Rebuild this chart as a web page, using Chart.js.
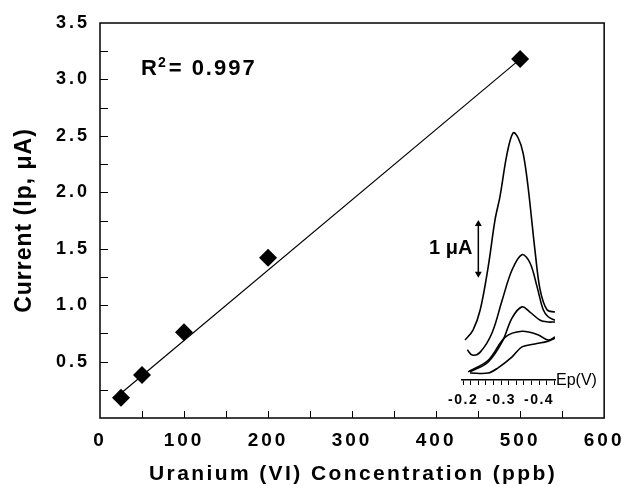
<!DOCTYPE html>
<html>
<head>
<meta charset="utf-8">
<title>Uranium (VI) calibration</title>
<script src="https://cdn.jsdelivr.net/npm/chart.js@4/dist/chart.umd.min.js"></script>
<style>
  html, body { margin: 0; padding: 0; background: #fff; }
  #wrap { position: relative; width: 631px; height: 486px; }
  #mainChart { position: absolute; left: 0; top: 0; }
  #insetChart { position: absolute; left: 400px; top: 110px; }
</style>
</head>
<body>
<div id="wrap">
  <canvas id="mainChart" width="631" height="486"></canvas>
  <canvas id="insetChart" width="220" height="310"></canvas>
</div>
<script>
// calibration points (ppb, uA)
const concentration = [25, 50, 100, 200, 500];
const peakCurrent = [0.18, 0.38, 0.76, 1.42, 3.18];

// regression line ends
const fitConc = [25, 500];
const fitCurrent = [0.22, 3.18];

const rSquared = '0.997';

// inset: stripping voltammograms (V, uA above the baseline)
const sweep1V = [-0.205, -0.226, -0.245, -0.266, -0.284, -0.297, -0.316, -0.332, -0.345, -0.358, -0.371, -0.390, -0.403, -0.421, -0.442];
const sweep1I = [0.69, 0.86, 1.21, 1.95, 2.76, 3.16, 3.91, 4.26, 4.17, 3.91, 3.33, 2.19, 1.55, 1.21, 1.17];
const sweep2V = [-0.211, -0.224, -0.245, -0.276, -0.303, -0.329, -0.355, -0.376, -0.395, -0.411, -0.424, -0.442];
const sweep2I = [0.52, 0.43, 0.48, 0.81, 1.38, 1.90, 2.16, 2.02, 1.60, 1.21, 1.09, 1.03];
const sweep3V = [-0.218, -0.266, -0.303, -0.329, -0.355, -0.376, -0.403, -0.424, -0.442];
const sweep3I = [0.14, 0.31, 0.66, 1.07, 1.26, 1.17, 1.03, 1.00, 1.00];
const sweep4V = [-0.213, -0.266, -0.311, -0.355, -0.397, -0.424, -0.442];
const sweep4I = [0.14, 0.34, 0.74, 0.84, 0.78, 0.69, 0.74];
const sweep5V = [-0.218, -0.266, -0.292, -0.329, -0.355, -0.389, -0.424, -0.442];
const sweep5I = [0.12, 0.12, 0.21, 0.40, 0.57, 0.62, 0.67, 0.72];

const insetTicks = [-0.2, -0.22, -0.24, -0.26, -0.28, -0.3, -0.32, -0.34, -0.36, -0.38, -0.4, -0.42, -0.44];
const insetTickLabels = ['-0.2', '-0.3', '-0.4'];

// 1 uA scale bar
const scaleBarV = [-0.240, -0.240];
const scaleBarI = [1.83, 2.69];

const FONT = 'Arial, "Liberation Sans", sans-serif';
Chart.defaults.font.family = FONT;
Chart.defaults.color = '#000';

const toPoints = (xs, ys) => xs.map((x, i) => ({ x: x, y: ys[i] }));

const mainDecor = {
  id: 'mainDecor',
  beforeDraw(chart) {
    chart.ctx.letterSpacing = '3px';
  },
  beforeDatasetsDraw(chart) {
    const { ctx, chartArea: a, scales } = chart;
    ctx.save();
    ctx.strokeStyle = '#000';
    ctx.lineWidth = 1;
    ctx.beginPath();
    scales.y.ticks.forEach(t => {
      if (t.value <= scales.y.min || t.value >= scales.y.max) return;
      const y = Math.round(scales.y.getPixelForValue(t.value)) + 0.5;
      ctx.moveTo(a.left, y);
      ctx.lineTo(a.left + 8, y);
    });
    scales.x.ticks.forEach(t => {
      if (t.value <= scales.x.min || t.value >= scales.x.max) return;
      const x = Math.round(scales.x.getPixelForValue(t.value)) + 0.5;
      ctx.moveTo(x, a.bottom);
      ctx.lineTo(x, a.bottom - 7);
    });
    ctx.stroke();
    ctx.lineWidth = 1.5;
    ctx.strokeRect(a.left, a.top, a.right - a.left, a.bottom - a.top);
    ctx.restore();
  },
  afterDraw(chart) {
    const { ctx, chartArea: a } = chart;
    ctx.save();
    ctx.fillStyle = '#000';
    ctx.textBaseline = 'alphabetic';

    ctx.letterSpacing = '2.4px';
    ctx.font = 'bold 21px ' + FONT;
    ctx.textAlign = 'center';
    ctx.fillText('Uranium (VI) Concentration (ppb)', (a.left + a.right) / 2 + 1, 480);

    ctx.save();
    ctx.translate(31, (a.top + a.bottom) / 2);
    ctx.rotate(-Math.PI / 2);
    ctx.letterSpacing = '1px';
    ctx.font = 'bold 23px ' + FONT;
    ctx.fillText('Current (Ip, μA)', 0, 0);
    ctx.restore();

    // R^2 label with a raised 2
    ctx.textAlign = 'left';
    ctx.letterSpacing = '0px';
    ctx.font = 'bold 22px ' + FONT;
    let x = 141;
    ctx.fillText('R', x, 75);
    x += ctx.measureText('R').width + 1;
    ctx.font = 'bold 14px ' + FONT;
    ctx.fillText('2', x, 67);
    x += ctx.measureText('2').width + 3;
    ctx.letterSpacing = '2px';
    ctx.font = 'bold 22px ' + FONT;
    ctx.fillText('= ' + rSquared, x, 75);
    ctx.restore();
  }
};

new Chart(document.getElementById('mainChart'), {
  type: 'scatter',
  data: {
    datasets: [
      {
        label: 'Linear fit',
        data: toPoints(fitConc, fitCurrent),
        showLine: true,
        borderColor: '#000',
        borderWidth: 1.2,
        pointRadius: 0
      },
      {
        label: 'Ip',
        data: toPoints(concentration, peakCurrent),
        pointStyle: 'rectRot',
        pointRadius: 9,
        backgroundColor: '#000',
        borderColor: '#000',
        borderWidth: 0
      }
    ]
  },
  options: {
    responsive: false,
    animation: false,
    events: [],
    layout: { padding: { top: 23, right: 22, left: 0, bottom: 0 } },
    plugins: {
      legend: { display: false },
      tooltip: { enabled: false }
    },
    scales: {
      x: {
        type: 'linear',
        min: 0,
        max: 600,
        grid: { display: false, drawTicks: false },
        border: { display: false },
        ticks: {
          stepSize: 50,
          autoSkip: false,
          maxRotation: 0,
          padding: 11,
          font: { size: 19, weight: 'bold' },
          callback: v => (v % 100 === 0 ? String(v) : '')
        },
        afterFit: s => { s.height = 68; }
      },
      y: {
        type: 'linear',
        min: 0,
        max: 3.5,
        grid: { display: false, drawTicks: false },
        border: { display: false },
        ticks: {
          stepSize: 0.25,
          autoSkip: false,
          padding: 10,
          font: { size: 18, weight: 'bold' },
          callback: v => (v > 0 && Math.abs(v * 2 - Math.round(v * 2)) < 1e-6 ? v.toFixed(1) : '')
        },
        afterFit: s => { s.width = 100; }
      }
    }
  },
  plugins: [mainDecor]
});

const insetDecor = {
  id: 'insetDecor',
  beforeDraw(chart) {
    chart.ctx.letterSpacing = '1.5px';
  },
  afterDraw(chart) {
    const { ctx, chartArea: a, scales } = chart;
    ctx.save();
    ctx.letterSpacing = '0px';
    ctx.fillStyle = '#000';
    ctx.textBaseline = 'middle';
    ctx.textAlign = 'left';
    ctx.font = '16px ' + FONT;
    ctx.fillText('Ep(V)', a.right + 1, a.bottom + 1);

    ctx.textAlign = 'right';
    ctx.font = 'bold 20px ' + FONT;
    const bx = scales.x.getPixelForValue(scaleBarV[0]) - 6;
    const by = scales.y.getPixelForValue((scaleBarI[0] + scaleBarI[1]) / 2);
    ctx.fillText('1 μA', bx, by);
    ctx.restore();
  }
};

const sweepStyle = {
  showLine: true,
  borderColor: '#000',
  borderWidth: 1.6,
  pointRadius: 0,
  tension: 0.35
};

new Chart(document.getElementById('insetChart'), {
  type: 'scatter',
  data: {
    datasets: [
      Object.assign({ label: 's1', data: toPoints(sweep1V, sweep1I) }, sweepStyle),
      Object.assign({ label: 's2', data: toPoints(sweep2V, sweep2I) }, sweepStyle),
      Object.assign({ label: 's3', data: toPoints(sweep3V, sweep3I) }, sweepStyle),
      Object.assign({ label: 's4', data: toPoints(sweep4V, sweep4I) }, sweepStyle),
      Object.assign({ label: 's5', data: toPoints(sweep5V, sweep5I) }, sweepStyle),
      {
        label: '1 uA',
        data: toPoints(scaleBarV, scaleBarI),
        showLine: true,
        borderColor: '#000',
        borderWidth: 1.5,
        pointStyle: 'triangle',
        pointRadius: 4,
        pointRotation: [180, 0],
        backgroundColor: '#000',
        pointBorderWidth: 0
      }
    ]
  },
  options: {
    responsive: false,
    animation: false,
    events: [],
    layout: { padding: { left: 62, right: 65, top: 10, bottom: 0 } },
    plugins: {
      legend: { display: false },
      tooltip: { enabled: false }
    },
    scales: {
      x: {
        type: 'linear',
        reverse: true,
        min: -0.442,
        max: -0.197,
        afterBuildTicks: s => { s.ticks = insetTicks.map(v => ({ value: v })); },
        grid: { display: true, drawOnChartArea: false, drawTicks: true, tickLength: 5, color: '#000', lineWidth: 1 },
        border: { display: true, color: '#000', width: 1.5 },
        ticks: {
          autoSkip: false,
          maxRotation: 0,
          padding: 7,
          font: { size: 14, weight: 'bold' },
          callback: v => {
            const s = v.toFixed(1);
            return Math.abs(v * 10 - Math.round(v * 10)) < 1e-6 && insetTickLabels.includes(s) ? s : '';
          }
        },
        afterFit: s => { s.height = 40; }
      },
      y: { display: false, min: 0, max: 4.48 }
    }
  },
  plugins: [insetDecor]
});
</script>
</body>
</html>
